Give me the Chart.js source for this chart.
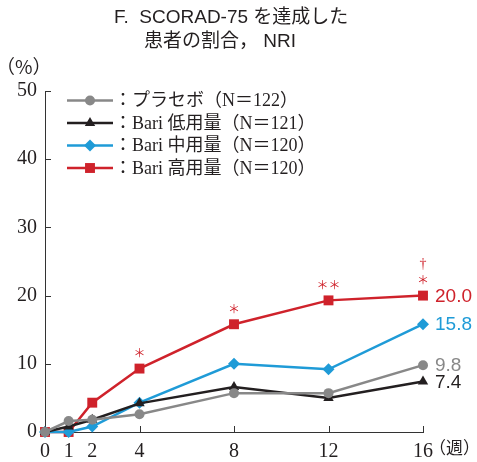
<!DOCTYPE html>
<html>
<head>
<meta charset="utf-8">
<title></title>
<script src="https://cdn.jsdelivr.net/npm/chart.js@4.4.0/dist/chart.umd.min.js"></script>
<style>
  body { margin: 0; background: #fff; }
</style>
</head>
<body>
<div style="width: 477px; height: 462px;">
  <canvas id="myChart" width="477" height="462"></canvas>
</div>
<script>
var weeks = [0, 1, 2, 4, 8, 12, 16];
var xTicks = [0, 1, 2, 4, 8, 12, 16];
var yTicks = [0, 10, 20, 30, 40, 50];
var placebo = [0, 1.6, 1.8, 2.6, 5.7, 5.7, 9.8];
var bariLow = [0, 0.8, 1.8, 4.2, 6.6, 5.0, 7.4];
var bariMid = [0, 0, 0.8, 4.3, 10.0, 9.2, 15.8];
var bariHigh = [0, 0, 4.3, 9.3, 15.8, 19.3, 20.0];
var seriesLabels = ['：プラセボ（N＝122）', '：Bari 低用量（N＝121）', '：Bari 中用量（N＝120）', '：Bari 高用量（N＝120）'];
var highMarks = ['', '', '', '＊', '＊', '＊＊', '＊'];
var highDagger = ['', '', '', '', '', '', '†'];

var serif = "'Liberation Serif', 'Noto Sans CJK JP'";
var sans = "'Liberation Sans', 'Noto Sans CJK JP'";

function pts(vals) {
    return vals.map(function(v, i) { return {x: weeks[i], y: v}; });
}

function ds(label, vals, color, style, r) {
    return {
        label: label, data: pts(vals),
        borderColor: color, backgroundColor: color,
        borderWidth: 2.5, pointStyle: style, pointRadius: r,
        pointBorderWidth: 0, pointHoverRadius: r, clip: false
    };
}

// tick marks, legend, title, notes
var extras = {
    id: 'extras',
    beforeDatasetsDraw: function(chart) {
        var ctx = chart.ctx, xs = chart.scales.x, ys = chart.scales.y;
        ctx.save();
        ctx.strokeStyle = '#333';
        ctx.lineWidth = 1;
        ctx.beginPath();
        yTicks.forEach(function(v) {
            var py = Math.round(ys.getPixelForValue(v)) + 0.5;
            ctx.moveTo(xs.left, py); ctx.lineTo(xs.left + 6, py);
        });
        xTicks.forEach(function(v) {
            var px = Math.round(xs.getPixelForValue(v)) + 0.5;
            ctx.moveTo(px, ys.bottom); ctx.lineTo(px, ys.bottom - 6);
        });
        ctx.stroke();
        ctx.restore();
    },
    afterDraw: function(chart) {
        var ctx = chart.ctx, xs = chart.scales.x, ys = chart.scales.y;
        ctx.save();

        // title
        ctx.fillStyle = '#231f20';
        ctx.textBaseline = 'alphabetic';
        ctx.textAlign = 'left';
        ctx.font = '19px ' + sans;
        ctx.fillText('F.  SCORAD-75 を達成した', 114, 23);
        ctx.fillText('患者の割合， NRI', 144, 47);

        // unit
        ctx.font = "19px 'Noto Sans CJK JP'";
        ctx.textBaseline = 'middle';
        ctx.fillText('（%）', -4, 67);

        // week unit
        ctx.font = '17px ' + serif;
        ctx.fillText('（週）', xs.right + 6, 450);

        // legend
        chart.data.datasets.forEach(function(d, i) {
            var ry = 100.5 + i * 22.5;
            ctx.strokeStyle = d.borderColor;
            ctx.fillStyle = d.borderColor;
            ctx.lineWidth = 2.5;
            ctx.beginPath();
            ctx.moveTo(67, ry); ctx.lineTo(113, ry);
            ctx.stroke();
            Chart.helpers.drawPoint(ctx, {pointStyle: d.pointStyle, radius: d.pointRadius, rotation: 0, borderWidth: 0}, 90, ry);
            ctx.fillStyle = '#231f20';
            ctx.font = '18px ' + serif;
            ctx.textAlign = 'left';
            ctx.fillText(seriesLabels[i], 114, ry + 1);
        });

        // end values
        ctx.font = '19px ' + sans;
        ctx.textAlign = 'left';
        chart.data.datasets.forEach(function(d, i) {
            var meta = chart.getDatasetMeta(i);
            var last = meta.data[meta.data.length - 1];
            ctx.fillStyle = d.borderColor;
            ctx.fillText(d.data[d.data.length - 1].y.toFixed(1), last.x + 12, last.y + 1);
        });

        // significance marks on high dose
        var hm = chart.getDatasetMeta(3);
        ctx.fillStyle = '#cf222b';
        ctx.textAlign = 'center';
        hm.data.forEach(function(p, i) {
            if (highMarks[i]) {
                ctx.font = '12px ' + sans;
                ctx.fillText(highMarks[i], p.x, p.y - 14);
            }
            if (highDagger[i]) {
                ctx.font = '14px ' + serif;
                ctx.fillText(highDagger[i], p.x, p.y - 31);
            }
        });
        ctx.restore();
    }
};

var chart = new Chart(document.getElementById('myChart'), {
    type: 'line',
    data: {
        datasets: [
            ds(seriesLabels[0], placebo, '#888888', 'circle', 5),
            ds(seriesLabels[1], bariLow, '#231f20', 'triangle', 6),
            ds(seriesLabels[2], bariMid, '#1f9bd7', 'rectRot', 6),
            ds(seriesLabels[3], bariHigh, '#cf222b', 'rect', 7)
        ]
    },
    options: {
        responsive: false,
        animation: false,
        devicePixelRatio: 1,
        layout: { padding: { top: 91, right: 54, left: 0, bottom: 0 } },
        plugins: { legend: { display: false }, tooltip: { enabled: false } },
        scales: {
            x: {
                type: 'linear', min: 0, max: 16,
                afterBuildTicks: function(s) { s.ticks = xTicks.map(function(v) { return {value: v}; }); },
                afterFit: function(s) { s.height = 30; },
                grid: { display: true, drawOnChartArea: false, drawTicks: false },
                border: { display: true, color: '#333', width: 1 },
                ticks: { padding: 8, color: '#231f20', maxRotation: 0, autoSkip: false, font: { family: serif, size: 20 } }
            },
            y: {
                min: 0, max: 50,
                afterBuildTicks: function(s) { s.ticks = yTicks.map(function(v) { return {value: v}; }); },
                afterFit: function(s) { s.width = 45; },
                grid: { display: true, drawOnChartArea: false, drawTicks: false },
                border: { display: true, color: '#333', width: 1 },
                ticks: { padding: 8, color: '#231f20', font: { family: serif, size: 20 } }
            }
        }
    },
    plugins: [extras]
});
</script>
</body>
</html>
